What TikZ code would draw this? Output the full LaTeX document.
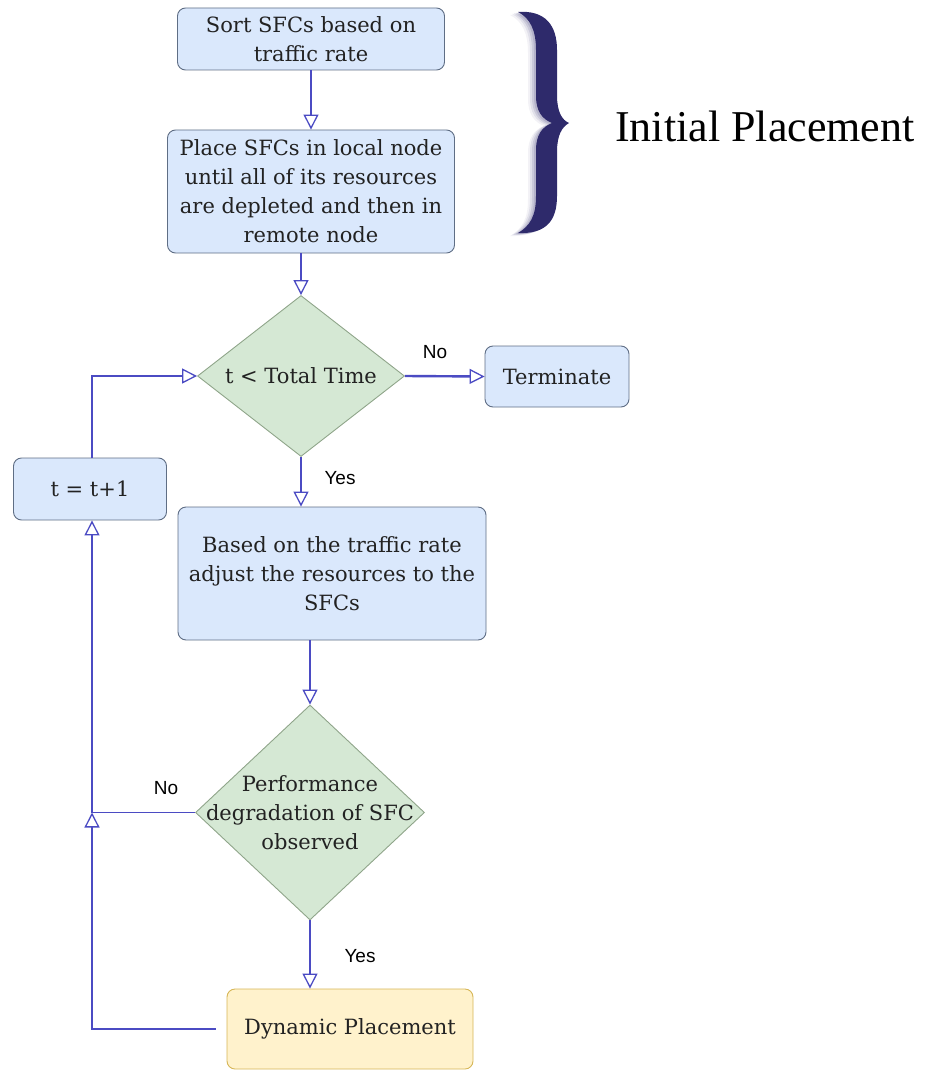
\documentclass[tikz,border=0pt]{standalone}
\usepackage{fontspec}
\setmainfont{DejaVu Serif}
\newfontfamily\labelfont{Liberation Sans}
\newfontfamily\titlefont{Liberation Serif}
\usetikzlibrary{arrows.meta,shapes.geometric}

\definecolor{boxfill}{HTML}{DAE8FC}
\definecolor{boxline}{HTML}{5F6E85}
\definecolor{decfill}{HTML}{D5E8D4}
\definecolor{decline}{HTML}{8FA58A}
\definecolor{endfill}{HTML}{FFF2CC}
\definecolor{endline}{HTML}{D6B656}
\definecolor{flow}{HTML}{4B4BC3}
\definecolor{bracecol}{HTML}{2E2A6B}
\definecolor{txt}{HTML}{222222}

\tikzset{
  procbox/.style={draw=boxline, fill=boxfill, rounded corners=8pt, line width=0.9pt,
    align=center, text=txt, inner sep=0pt, font=\fontsize{21}{29}\selectfont},
  endbox/.style={procbox, draw=endline, fill=endfill},
  decision/.style={shape=diamond, draw=decline, fill=decfill, line width=0.9pt, inner sep=0pt},
  dectext/.style={align=center, text=txt, inner sep=0pt, font=\fontsize{21}{29}\selectfont},
  flowline/.style={draw=flow, line width=1.3pt},
  flowarrow/.style={flowline, -{Triangle[open, length=15pt, width=15pt, line width=1.3pt]}},
  branch/.style={font=\labelfont\fontsize{19}{22}\selectfont, text=black, inner sep=0pt}
}

\begin{document}
\begin{tikzpicture}[x=1pt, y=-1pt]
\useasboundingbox (0,0) rectangle (927,1070);

% process steps
\node[procbox, minimum width=267pt, minimum height=62pt] (sort) at (311,39)
  {Sort SFCs based on\\traffic rate};
\node[procbox, minimum width=287pt, minimum height=123pt] (place) at (311,191.5)
  {Place SFCs in local node\\until all of its resources\\are depleted and then in\\remote node};
\node[decision, minimum width=207pt, minimum height=161pt] (d1) at (301,376) {};
\node[dectext] (d1t) at (d1.center) {t < Total Time};
\node[procbox, minimum width=144pt, minimum height=61pt] (term) at (557,376.5) {Terminate};
\node[procbox, minimum width=153pt, minimum height=62pt] (inc) at (90,489) {t = t+1};
\node[procbox, minimum width=308pt, minimum height=133pt] (adj) at (332,573.5)
  {Based on the traffic rate\\adjust the resources to the\\SFCs};
\node[decision, minimum width=229pt, minimum height=215pt] (d2) at (310,812.5) {};
\node[dectext] (d2t) at (d2.center) {Performance\\degradation of SFC\\observed};
\node[endbox, minimum width=246pt, minimum height=80pt] (dyn) at (350,1029) {Dynamic Placement};

% loop-back column
\coordinate (loopx) at (92,0);
\coordinate (j2) at (loopx |- d2.west);

% connectors
\draw[flowarrow] (sort.south) -- (place.north);
\draw[flowarrow] (place.south -| d1.north) -- (d1.north);
\draw[flowline, line width=2.4pt, -{Triangle[open, length=15pt, width=15pt, line width=1.3pt]}]
  (d1.east) -- (term.west);
\draw[flowarrow] (d1.south) -- (d1.south |- adj.north);
\draw[flowarrow] (adj.south -| d2.north) -- (d2.north);
\draw[flowarrow] (d2.south) -- (d2.south |- dyn.north);
\draw[flowline] (d2.west) -- (j2);
\draw[flowarrow, shorten <=11pt] (dyn.west) -| (j2);
\draw[flowarrow] (j2) -- (loopx |- inc.south);
\draw[flowarrow] (loopx |- inc.north) |- (d1.west);

% branch labels
\node[branch] (no1) at (435,352) {No};
\node[branch] (yes1) at (340,478) {Yes};
\node[branch] (no2) at (166,788) {No};
\node[branch] (yes2) at (360,956) {Yes};

% curly brace with a soft glow
\foreach \dx/\dy/\op in {-8/3/0.06, -6/2/0.09, -4/1.5/0.12, -2/1/0.15, 0/0/1} {
  \begin{scope}[shift={(\dx,\dy)}]
  \fill[bracecol, opacity=\op]
    (518,12) .. controls (545,10) and (557,25) .. (557,50)
    -- (557,95) .. controls (557,112) and (562,120) .. (569,123)
    .. controls (562,127) and (557,135) .. (557,152)
    -- (557,196) .. controls (557,222) and (545,234) .. (518,233)
    .. controls (530,226) and (536,216) .. (536,196)
    -- (536,150) .. controls (536,135) and (542,127) .. (552,123)
    .. controls (542,119) and (536,111) .. (536,96)
    -- (536,50) .. controls (536,30) and (530,18) .. (518,12) -- cycle;
  \end{scope}
}

\node[font=\titlefont\fontsize{44}{50}\selectfont, text=black] (initial) at (765,126) {Initial Placement};
\end{tikzpicture}
\end{document}
